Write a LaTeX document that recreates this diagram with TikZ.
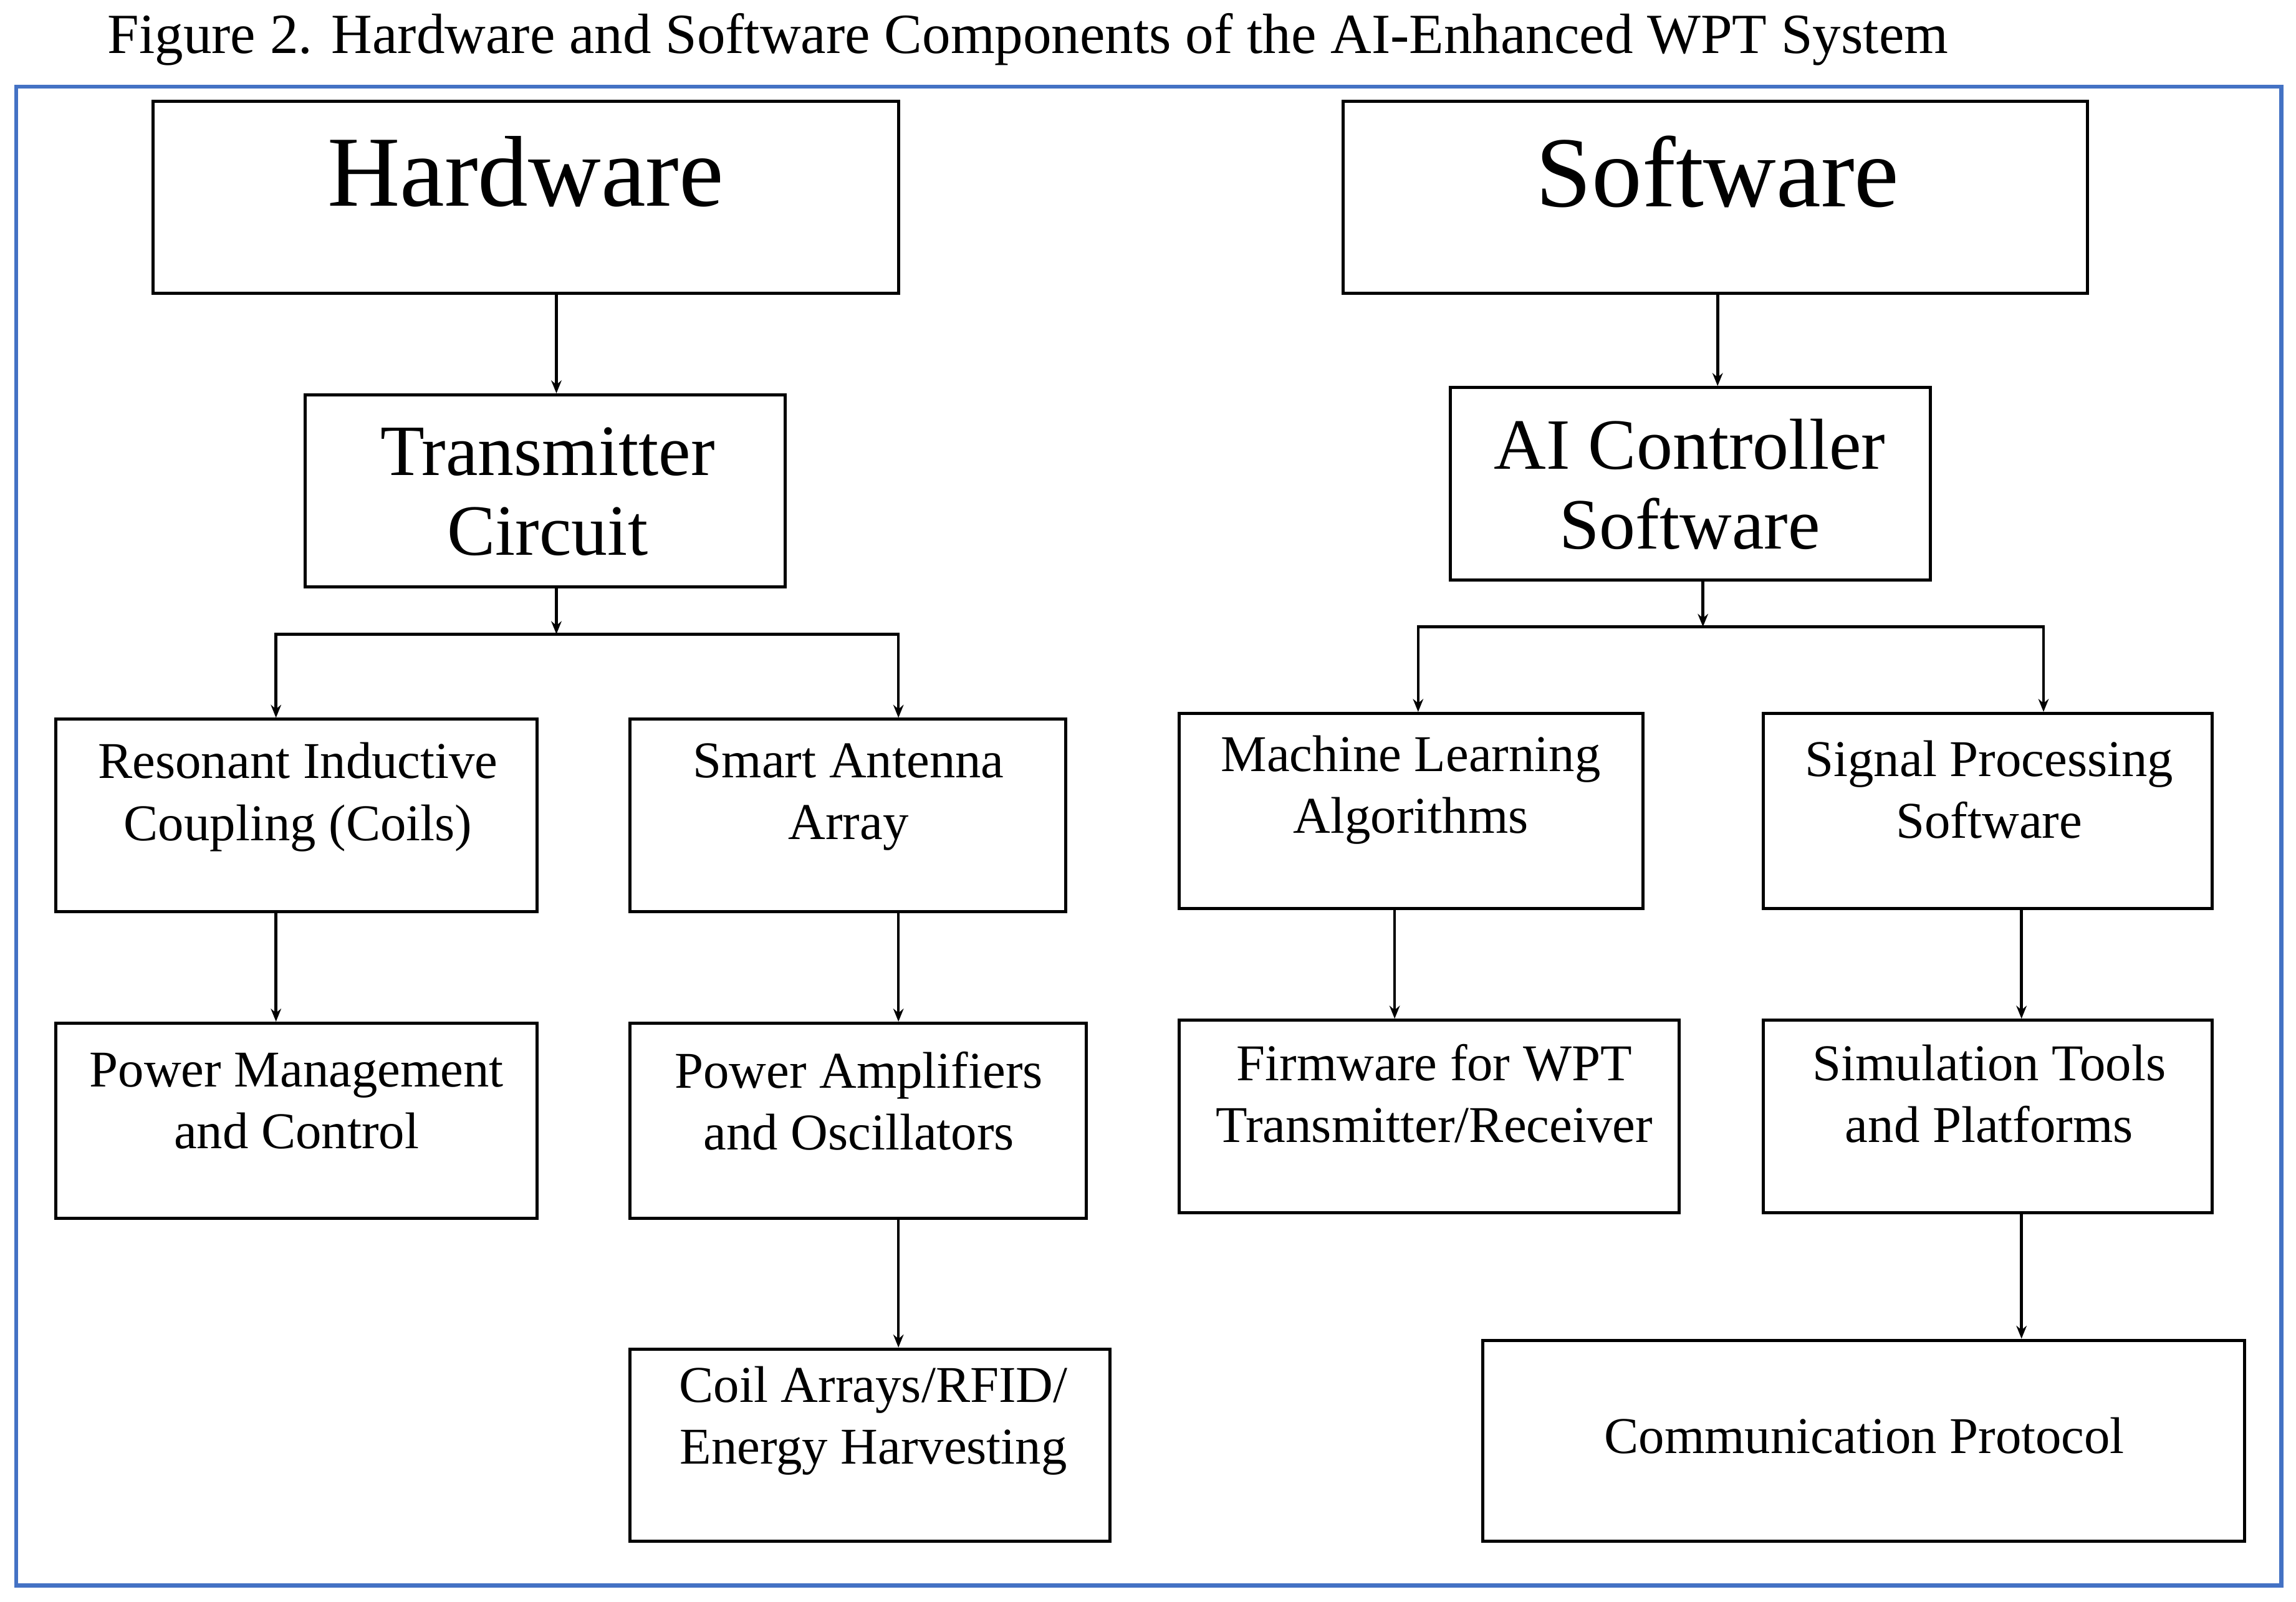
\documentclass[tikz,border=0pt]{standalone}
\usepackage{fontspec}
\setmainfont{Liberation Serif}
\usetikzlibrary{arrows.meta}
\begin{document}
\begin{tikzpicture}[x=0.02cm,y=-0.02cm,
 box/.style={draw,line width=1.2pt,inner sep=0pt},
 txt/.style={align=center,font=\fontsize{20}{24}\selectfont},
 big/.style={align=center,font=\fontsize{28}{31}\selectfont},
 arr/.style={line width=1.1pt,-{Stealth[length=5pt,width=4pt]}},
 ln/.style={line width=1.1pt}]
\useasboundingbox (0,0) rectangle (1564,1091);
\node[anchor=west,inner sep=0pt,font=\fontsize{22}{24}\selectfont] (title) at (73,27) {Figure 2. Hardware and Software Components of the AI-Enhanced WPT System};
\draw[line width=1.6pt,draw={rgb,255:red,68;green,114;blue,196}] (11,59) rectangle (1554,1080);
% boxes
\node[box,minimum width=10.16cm,minimum height=2.62cm] (hw) at (358,134.5) {};
\node[box,minimum width=10.14cm,minimum height=2.62cm] (sw) at (1168.5,134.5) {};
\node[box,minimum width=6.54cm,minimum height=2.62cm] (tx) at (371.5,334.5) {};
\node[box,minimum width=6.54cm,minimum height=2.62cm] (ai) at (1151.5,329.5) {};
\node[box,minimum width=6.56cm,minimum height=2.62cm] (res) at (202,555.5) {};
\node[box,minimum width=5.94cm,minimum height=2.62cm] (sa) at (577.5,555.5) {};
\node[box,minimum width=6.32cm,minimum height=2.66cm] (ml) at (961,552.5) {};
\node[box,minimum width=6.12cm,minimum height=2.66cm] (sp) at (1354,552.5) {};
\node[box,minimum width=6.56cm,minimum height=2.66cm] (pm) at (202,763.5) {};
\node[box,minimum width=6.22cm,minimum height=2.66cm] (pa) at (584.5,763.5) {};
\node[box,minimum width=6.82cm,minimum height=2.62cm] (fw) at (973.5,760.5) {};
\node[box,minimum width=6.12cm,minimum height=2.62cm] (st) at (1354,760.5) {};
\node[box,minimum width=6.54cm,minimum height=2.62cm] (ca) at (592.5,984.5) {};
\node[box,minimum width=10.38cm,minimum height=2.74cm] (cp) at (1269.5,981.5) {};
% texts
\node[font=\fontsize{39}{44}\selectfont] (thw) at (358,117) {Hardware};
\node[font=\fontsize{39}{44}\selectfont] (tsw) at (1170,117) {Software};
\node[big] (ttx) at (373,335) {Transmitter\\Circuit};
\node[big] (tai) at (1151,330) {AI Controller\\Software};
\node[txt] (tres) at (203,543) {Resonant Inductive\\Coupling (Coils)};
\node[txt] (tsa) at (578,543) {Smart Antenna\\Array};
\node[txt] (tml) at (961,538) {Machine Learning\\Algorithms};
\node[txt] (tsp) at (1355,538) {Signal Processing\\Software};
\node[txt] (tpm) at (202,750) {Power Management\\and Control};
\node[txt] (tpa) at (585,750) {Power Amplifiers\\and Oscillators};
\node[txt] (tfw) at (977,745) {Firmware for WPT\\Transmitter/Receiver};
\node[txt] (tst) at (1355,745) {Simulation Tools\\and Platforms};
\node[txt] (tca) at (595,968) {Coil Arrays/RFID/\\Energy Harvesting};
\node[txt] (tcp) at (1270,978) {Communication Protocol};
% connectors
\coordinate (j1) at (379,432);
\coordinate (j2) at (1160,427);
\draw[arr] (hw.south -| 379,0) -- (tx.north -| 379,0);
\draw[arr] (tx.south -| 379,0) -- (j1);
\draw[arr] (j1) -| (res.north -| 188,0);
\draw[arr] (j1) -| (sa.north -| 612,0);
\draw[arr] (res.south -| 188,0) -- (pm.north -| 188,0);
\draw[arr] (sa.south -| 612,0) -- (pa.north -| 612,0);
\draw[arr] (pa.south -| 612,0) -- (ca.north -| 612,0);
\draw[arr] (sw.south -| 1170,0) -- (ai.north -| 1170,0);
\draw[arr] (ai.south -| 1160,0) -- (j2);
\draw[arr] (j2) -| (ml.north -| 966,0);
\draw[arr] (j2) -| (sp.north -| 1392,0);
\draw[arr] (ml.south -| 950,0) -- (fw.north -| 950,0);
\draw[arr] (sp.south -| 1377,0) -- (st.north -| 1377,0);
\draw[arr] (st.south -| 1377,0) -- (cp.north -| 1377,0);
\end{tikzpicture}
\end{document}
